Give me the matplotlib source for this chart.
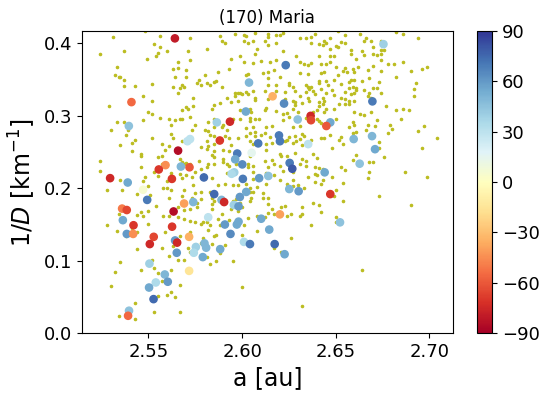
import matplotlib
matplotlib.use("Agg")
from matplotlib import pyplot as plt
import numpy as np

# background asteroids (a [au], 1/D [km^-1])
a_bg = [2.531, 2.548, 2.556, 2.572, 2.553, 2.556, 2.537, 2.524, 2.555, 2.554, 2.560, 2.571, 2.549, 2.566, 2.572,
        2.533, 2.563, 2.566, 2.570, 2.532, 2.534, 2.535, 2.537, 2.564, 2.570, 2.580, 2.577, 2.576, 2.578, 2.537,
        2.543, 2.552, 2.563, 2.568, 2.569, 2.567, 2.566, 2.547, 2.552, 2.574, 2.529, 2.570, 2.571, 2.574, 2.550,
        2.552, 2.568, 2.556, 2.572, 2.533, 2.537, 2.547, 2.561, 2.564, 2.567, 2.568, 2.562, 2.575, 2.530, 2.539,
        2.538, 2.573, 2.580, 2.562, 2.563, 2.568, 2.552, 2.543, 2.541, 2.535, 2.557, 2.561, 2.559, 2.578, 2.541,
        2.581, 2.546, 2.546, 2.557, 2.555, 2.567, 2.524, 2.568, 2.569, 2.577, 2.546, 2.570, 2.572, 2.578, 2.524,
        2.557, 2.553, 2.555, 2.562, 2.567, 2.570, 2.575, 2.581, 2.548, 2.535, 2.547, 2.560, 2.563, 2.568, 2.573,
        # middle top
        2.588, 2.596, 2.601, 2.602, 2.607, 2.614, 2.614, 2.618, 2.620, 2.622, 2.631, 2.634, 2.637, 2.639, 2.637,
        2.641, 2.644, 2.643, 2.645, 2.581, 2.589, 2.591, 2.601, 2.603, 2.606, 2.612, 2.614, 2.618, 2.608, 2.607,
        2.599, 2.622, 2.629, 2.641, 2.647, 2.594, 2.601, 2.606, 2.610, 2.615, 2.618, 2.624, 2.631, 2.633, 2.635,
        2.637, 2.642, 2.645, 2.593, 2.587, 2.611, 2.614, 2.617, 2.603, 2.602, 2.620, 2.631, 2.635, 2.642, 2.644,
        2.614, 2.625, 2.641, 2.645, 2.646, 2.641, 2.581, 2.585, 2.586, 2.583, 2.589, 2.618, 2.614, 2.625, 2.627,
        2.634, 2.635, 2.637, 2.636, 2.638, 2.639, 2.634, 2.642, 2.596, 2.598, 2.599, 2.602, 2.600, 2.603, 2.606,
        2.612, 2.618, 2.623, 2.628, 2.631, 2.635, 2.636, 2.643, 2.645, 2.592, 2.596, 2.607, 2.607, 2.598, 2.594,
        2.588, 2.585, 2.614, 2.623, 2.627, 2.628, 2.628, 2.632, 2.641, 2.643, 2.644, 2.584, 2.599, 2.604, 2.605,
        2.612, 2.613, 2.622, 2.624, 2.618, 2.627, 2.630, 2.638, 2.641, 2.640, 2.644, 2.645, 2.582, 2.585, 2.595,
        2.599, 2.604, 2.607, 2.604, 2.609, 2.622, 2.625, 2.634, 2.640, 2.641, 2.642, 2.585, 2.582, 2.589, 2.590,
        2.592, 2.602, 2.606, 2.604, 2.607, 2.613, 2.616, 2.627, 2.631, 2.632, 2.585, 2.583, 2.591, 2.593, 2.598,
        2.602, 2.607, 2.610, 2.612, 2.615, 2.625, 2.624, 2.628, 2.629, 2.631, 2.633, 2.637, 2.642, 2.644, 2.647,
        2.581, 2.582, 2.585, 2.594, 2.604, 2.606, 2.613, 2.616, 2.623, 2.627, 2.632, 2.585, 2.590, 2.593, 2.613,
        2.620, 2.624, 2.628, 2.632, 2.584, 2.585, 2.590, 2.604, 2.612, 2.616, 2.621, 2.634, 2.638, 2.640, 2.582,
        2.585, 2.590, 2.592, 2.593, 2.603, 2.603, 2.606, 2.614, 2.617, 2.620, 2.631, 2.634, 2.639, 2.641, 2.643,
        2.639, 2.592, 2.596, 2.597, 2.606, 2.606, 2.613, 2.617, 2.622, 2.627, 2.635, 2.640, 2.643, 2.584, 2.601,
        2.609, 2.620, 2.627,
        # right top
        2.651, 2.655, 2.663, 2.682, 2.686, 2.694, 2.647, 2.653, 2.650, 2.651, 2.647, 2.655, 2.665, 2.669, 2.674,
        2.666, 2.670, 2.674, 2.676, 2.658, 2.658, 2.664, 2.665, 2.670, 2.672, 2.674, 2.649, 2.661, 2.674, 2.678,
        2.681, 2.686, 2.699, 2.696, 2.690, 2.647, 2.650, 2.655, 2.662, 2.670, 2.654, 2.656, 2.659, 2.660, 2.667,
        2.674, 2.651, 2.658, 2.657, 2.660, 2.664, 2.673, 2.668, 2.682, 2.693, 2.649, 2.653, 2.659, 2.661, 2.661,
        2.657, 2.655, 2.658, 2.660, 2.665, 2.670, 2.672, 2.674, 2.668, 2.648, 2.649, 2.653, 2.655, 2.657, 2.657,
        2.655, 2.652, 2.660, 2.667, 2.669, 2.692, 2.692, 2.649, 2.660, 2.663, 2.665, 2.669, 2.677, 2.682, 2.686,
        2.689, 2.685, 2.672, 2.659, 2.657, 2.660, 2.667, 2.671, 2.679, 2.680, 2.697, 2.694, 2.650, 2.661, 2.659,
        2.666, 2.678, 2.653, 2.652, 2.654, 2.673, 2.673, 2.704, 2.696, 2.648, 2.661, 2.676, 2.659, 2.668, 2.670,
        2.653, 2.655, 2.668, 2.687, 2.648, 2.667, 2.699,
        # lower left
        2.528, 2.536, 2.544, 2.550, 2.551, 2.558, 2.560, 2.562, 2.561, 2.568, 2.569, 2.573, 2.575, 2.574, 2.578,
        2.578, 2.576, 2.534, 2.544, 2.546, 2.547, 2.550, 2.554, 2.558, 2.561, 2.563, 2.566, 2.566, 2.569, 2.572,
        2.576, 2.569, 2.572, 2.575, 2.578, 2.579, 2.528, 2.533, 2.538, 2.544, 2.550, 2.541, 2.559, 2.567, 2.572,
        2.578, 2.579, 2.544, 2.557, 2.563, 2.564, 2.561, 2.571, 2.572, 2.569, 2.566, 2.535, 2.552, 2.553, 2.546,
        2.555, 2.532, 2.562, 2.557, 2.567, 2.530, 2.562, 2.560, 2.564, 2.555, 2.543, 2.534, 2.543, 2.553, 2.567,
        # lower middle
        2.587, 2.591, 2.595, 2.598, 2.602, 2.604, 2.604, 2.608, 2.613, 2.624, 2.627, 2.630, 2.633, 2.639, 2.642,
        2.583, 2.584, 2.585, 2.584, 2.584, 2.588, 2.595, 2.597, 2.599, 2.600, 2.598, 2.594, 2.589, 2.587, 2.581,
        2.583, 2.588, 2.593, 2.601, 2.603, 2.604, 2.605, 2.606, 2.611, 2.611, 2.614, 2.614, 2.612, 2.608, 2.614,
        2.616, 2.617, 2.624, 2.621, 2.623, 2.626, 2.631, 2.632, 2.632, 2.638, 2.641, 2.642, 2.637, 2.582, 2.585,
        2.586, 2.600, 2.608, 2.626, 2.591, 2.584, 2.603, 2.617, 2.621, 2.588, 2.581, 2.586, 2.583, 2.595, 2.600,
        2.632,
        # lower right
        2.654, 2.650, 2.649, 2.654, 2.673, 2.690, 2.650, 2.650, 2.664]
inv_d_bg = [0.409, 0.417, 0.410, 0.408, 0.399, 0.395, 0.389, 0.385, 0.387, 0.383, 0.389, 0.389, 0.378, 0.374, 0.377,
            0.367, 0.365, 0.366, 0.363, 0.357, 0.353, 0.353, 0.349, 0.353, 0.354, 0.356, 0.349, 0.345, 0.343, 0.341,
            0.341, 0.344, 0.340, 0.343, 0.340, 0.339, 0.331, 0.327, 0.321, 0.324, 0.313, 0.312, 0.309, 0.314, 0.306,
            0.303, 0.308, 0.297, 0.299, 0.292, 0.291, 0.294, 0.295, 0.294, 0.295, 0.296, 0.288, 0.287, 0.280, 0.280,
            0.274, 0.280, 0.280, 0.275, 0.270, 0.265, 0.270, 0.267, 0.262, 0.260, 0.261, 0.258, 0.253, 0.257, 0.251,
            0.254, 0.247, 0.244, 0.245, 0.243, 0.241, 0.238, 0.236, 0.233, 0.238, 0.230, 0.235, 0.233, 0.227, 0.224,
            0.234, 0.222, 0.217, 0.221, 0.220, 0.219, 0.222, 0.230, 0.216, 0.212, 0.210, 0.210, 0.211, 0.214, 0.216,
            # middle top
            0.410, 0.413, 0.412, 0.410, 0.415, 0.413, 0.409, 0.411, 0.412, 0.415, 0.407, 0.408, 0.409, 0.413, 0.400,
            0.399, 0.404, 0.398, 0.401, 0.392, 0.403, 0.400, 0.404, 0.400, 0.404, 0.404, 0.398, 0.401, 0.393, 0.386,
            0.383, 0.390, 0.382, 0.383, 0.383, 0.378, 0.375, 0.373, 0.376, 0.375, 0.377, 0.373, 0.374, 0.372, 0.370,
            0.373, 0.371, 0.372, 0.365, 0.361, 0.359, 0.360, 0.364, 0.358, 0.356, 0.354, 0.359, 0.358, 0.359, 0.360,
            0.352, 0.345, 0.348, 0.348, 0.343, 0.345, 0.346, 0.347, 0.348, 0.343, 0.340, 0.343, 0.343, 0.342, 0.340,
            0.343, 0.340, 0.340, 0.337, 0.334, 0.330, 0.333, 0.337, 0.331, 0.332, 0.332, 0.333, 0.330, 0.330, 0.334,
            0.334, 0.334, 0.333, 0.334, 0.327, 0.325, 0.320, 0.325, 0.331, 0.325, 0.327, 0.322, 0.325, 0.320, 0.319,
            0.318, 0.315, 0.323, 0.323, 0.320, 0.319, 0.315, 0.318, 0.319, 0.317, 0.320, 0.309, 0.308, 0.310, 0.306,
            0.308, 0.311, 0.303, 0.304, 0.307, 0.310, 0.306, 0.306, 0.313, 0.308, 0.306, 0.310, 0.292, 0.295, 0.296,
            0.295, 0.297, 0.296, 0.293, 0.295, 0.294, 0.298, 0.297, 0.296, 0.293, 0.290, 0.284, 0.279, 0.284, 0.287,
            0.281, 0.283, 0.284, 0.277, 0.278, 0.284, 0.286, 0.284, 0.286, 0.275, 0.272, 0.274, 0.272, 0.269, 0.270,
            0.272, 0.272, 0.274, 0.277, 0.271, 0.271, 0.267, 0.272, 0.265, 0.268, 0.272, 0.267, 0.269, 0.270, 0.274,
            0.265, 0.259, 0.261, 0.260, 0.265, 0.261, 0.261, 0.262, 0.265, 0.263, 0.260, 0.252, 0.253, 0.251, 0.253,
            0.248, 0.244, 0.249, 0.241, 0.246, 0.243, 0.241, 0.244, 0.238, 0.239, 0.244, 0.238, 0.247, 0.242, 0.233,
            0.234, 0.236, 0.233, 0.231, 0.234, 0.229, 0.231, 0.230, 0.234, 0.231, 0.234, 0.231, 0.230, 0.228, 0.226,
            0.220, 0.221, 0.222, 0.233, 0.222, 0.213, 0.221, 0.218, 0.224, 0.222, 0.216, 0.218, 0.212, 0.214, 0.212,
            0.214, 0.212, 0.212,
            # right top
            0.417, 0.412, 0.413, 0.416, 0.413, 0.407, 0.408, 0.402, 0.397, 0.395, 0.392, 0.400, 0.403, 0.404, 0.403,
            0.408, 0.395, 0.391, 0.391, 0.391, 0.385, 0.389, 0.384, 0.386, 0.384, 0.385, 0.383, 0.379, 0.377, 0.372,
            0.372, 0.374, 0.367, 0.365, 0.362, 0.375, 0.367, 0.366, 0.368, 0.369, 0.362, 0.361, 0.365, 0.360, 0.363,
            0.362, 0.357, 0.350, 0.347, 0.349, 0.348, 0.347, 0.352, 0.354, 0.346, 0.349, 0.344, 0.340, 0.339, 0.336,
            0.338, 0.333, 0.330, 0.332, 0.336, 0.338, 0.339, 0.332, 0.331, 0.336, 0.329, 0.325, 0.323, 0.320, 0.317,
            0.317, 0.317, 0.321, 0.327, 0.325, 0.337, 0.327, 0.310, 0.305, 0.302, 0.301, 0.305, 0.313, 0.308, 0.310,
            0.308, 0.295, 0.294, 0.292, 0.284, 0.287, 0.287, 0.286, 0.287, 0.282, 0.286, 0.279, 0.296, 0.278, 0.276,
            0.280, 0.277, 0.271, 0.266, 0.261, 0.264, 0.256, 0.270, 0.255, 0.256, 0.246, 0.243, 0.239, 0.237, 0.236,
            0.229, 0.225, 0.223, 0.223, 0.215, 0.214, 0.216,
            # lower left
            0.197, 0.197, 0.192, 0.203, 0.191, 0.200, 0.200, 0.198, 0.187, 0.189, 0.197, 0.187, 0.194, 0.205, 0.185,
            0.195, 0.180, 0.165, 0.163, 0.167, 0.162, 0.169, 0.175, 0.162, 0.162, 0.166, 0.161, 0.174, 0.170, 0.172,
            0.174, 0.158, 0.155, 0.153, 0.151, 0.154, 0.150, 0.141, 0.134, 0.139, 0.151, 0.145, 0.139, 0.134, 0.140,
            0.125, 0.131, 0.116, 0.117, 0.121, 0.109, 0.106, 0.117, 0.112, 0.101, 0.101, 0.098, 0.101, 0.090, 0.087,
            0.083, 0.085, 0.087, 0.072, 0.066, 0.065, 0.057, 0.053, 0.050, 0.052, 0.041, 0.024, 0.020, 0.029, 0.029,
            # lower middle
            0.204, 0.206, 0.204, 0.205, 0.206, 0.200, 0.195, 0.202, 0.206, 0.206, 0.203, 0.204, 0.201, 0.209, 0.206,
            0.195, 0.187, 0.183, 0.178, 0.172, 0.186, 0.182, 0.185, 0.180, 0.174, 0.168, 0.171, 0.164, 0.158, 0.153,
            0.150, 0.149, 0.156, 0.150, 0.159, 0.183, 0.186, 0.195, 0.194, 0.187, 0.187, 0.179, 0.160, 0.162, 0.166,
            0.171, 0.165, 0.162, 0.174, 0.175, 0.164, 0.162, 0.164, 0.174, 0.180, 0.177, 0.167, 0.150, 0.142, 0.134,
            0.136, 0.135, 0.141, 0.131, 0.122, 0.123, 0.123, 0.117, 0.112, 0.111, 0.105, 0.100, 0.096, 0.099, 0.064,
            0.038,
            # lower right
            0.207, 0.198, 0.190, 0.182, 0.190, 0.177, 0.161, 0.153, 0.087]

# family members coloured by spin latitude / obliquity angle
a_fam = [2.5641, 2.5409, 2.5395, 2.6037, 2.6020, 2.5865, 2.5935, 2.5881, 2.5708, 2.5722, 2.5658, 2.6086, 2.6051,
         2.5974, 2.5963, 2.6001, 2.5958, 2.5944, 2.5591, 2.5555, 2.5719, 2.5673, 2.5295, 2.5389, 2.5625, 2.5796,
         2.6004, 2.6091, 2.6140, 2.6755, 2.6233, 2.6163, 2.6224, 2.6696, 2.6297, 2.6366, 2.6368, 2.6471, 2.6450,
         2.6197, 2.6202, 2.6353, 2.6596, 2.6694, 2.6710, 2.6254, 2.6268, 2.6628, 2.6441, 2.5471, 2.5493, 2.5359,
         2.5384, 2.5363, 2.5420, 2.5384, 2.5418, 2.5528, 2.5507, 2.5634, 2.5626, 2.5690, 2.5642, 2.5653, 2.5651,
         2.5717, 2.5753, 2.5742, 2.5799, 2.5808, 2.5790, 2.5739, 2.5819, 2.5851, 2.5890, 2.5904, 2.5956, 2.5981,
         2.5988, 2.6022, 2.5908, 2.5981, 2.5972, 2.5938, 2.5883, 2.6010, 2.6042, 2.6102, 2.6145, 2.5717, 2.5505,
         2.5587, 2.5539, 2.5603, 2.5503, 2.5527, 2.5396, 2.5391, 2.6252, 2.6302, 2.6471, 2.6202, 2.6523, 2.6174,
         2.6227]
inv_d_fam = [0.407, 0.319, 0.286, 0.346, 0.306, 0.291, 0.292, 0.266, 0.265, 0.268, 0.252, 0.262, 0.249, 0.248,
             0.240, 0.233, 0.222, 0.220, 0.232, 0.226, 0.229, 0.230, 0.214, 0.208, 0.213, 0.215, 0.213, 0.214,
             0.217, 0.399, 0.370, 0.327, 0.317, 0.320, 0.295, 0.300, 0.294, 0.291, 0.286, 0.273, 0.265, 0.261,
             0.268, 0.272, 0.254, 0.235, 0.227, 0.234, 0.222, 0.198, 0.184, 0.172, 0.170, 0.156, 0.149, 0.137,
             0.137, 0.133, 0.123, 0.168, 0.147, 0.179, 0.128, 0.125, 0.111, 0.133, 0.119, 0.111, 0.124, 0.118,
             0.105, 0.181, 0.160, 0.192, 0.184, 0.181, 0.177, 0.175, 0.188, 0.195, 0.150, 0.154, 0.150, 0.137,
             0.116, 0.126, 0.123, 0.158, 0.143, 0.086, 0.096, 0.081, 0.070, 0.071, 0.063, 0.047, 0.031, 0.024,
             0.199, 0.196, 0.192, 0.164, 0.153, 0.123, 0.109]
angle_fam = [-80, -55, 45, 50, 55, 40, -75, -70, 30, 30, -85, 70, 15, 70, 55, 65, 40, 35, -45, -70, -60, 50, -75,
             55, -70, 75, 70, 60, 45, 40, 70, -35, 65, 70, 45, -75, -65, 55, -60, 70, 70, 30, 50, 50, 55, 70, 80,
             45, 55, 5, 70, -50, -65, 55, -70, 60, -45, -65, -75, -85, -70, -40, 60, -75, 60, -35, 40, 35, 50, 50,
             55, 50, 30, 75, 50, -75, 40, 60, 60, 55, 60, 55, 55, 65, 55, 35, 70, 55, 55, -15, 40, 50, 35, 60, 55,
             75, 45, -55, 50, 60, -70, -40, 45, 75, 55]

fig = plt.figure(figsize=(5.53, 3.99), dpi=100)
ax = fig.add_axes([0.148, 0.165, 0.671, 0.757])
cax = fig.add_axes([0.8626, 0.165, 0.027, 0.757])

ax.scatter(a_bg, inv_d_bg, s=2.5, color='tab:olive', zorder=1)
sc = ax.scatter(a_fam, inv_d_fam, c=angle_fam, cmap='RdYlBu', vmin=-90, vmax=90, s=27, zorder=2)

ax.set_xlim(2.5144, 2.7126)
ax.set_ylim(0, 0.417)
ax.set_xticks([2.55, 2.60, 2.65, 2.70])
ax.set_yticks([0.0, 0.1, 0.2, 0.3, 0.4])
ax.tick_params(labelsize=13)
ax.set_xlabel('a [au]', fontsize=17)
ax.set_ylabel(r'1/$D$ [km$^{-1}$]', fontsize=17)
ax.set_title('(170) Maria', fontsize=12)

cb = fig.colorbar(sc, cax=cax, ticks=[-90, -60, -30, 0, 30, 60, 90])
cb.ax.tick_params(labelsize=13)

fig.savefig('out.png', dpi=100)
